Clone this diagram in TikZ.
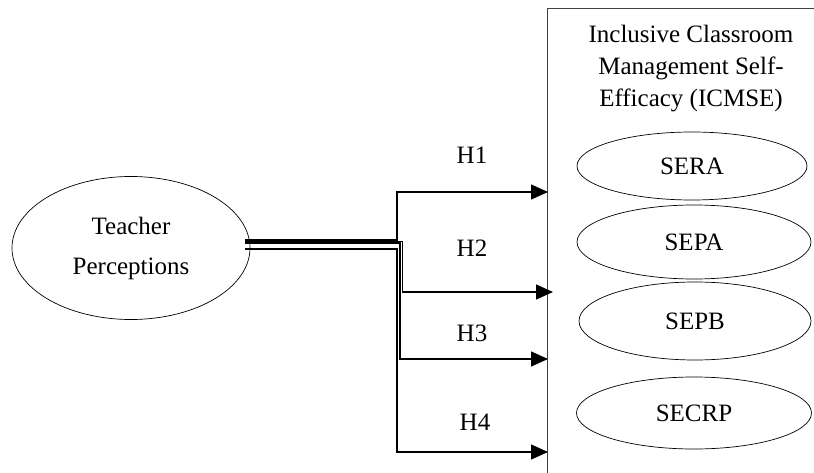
\documentclass[tikz,border=0pt]{standalone}
\usepackage{fontspec}
\setmainfont{Liberation Serif}
\usetikzlibrary{arrows.meta, shapes.geometric}
\begin{document}
\begin{tikzpicture}[x=1pt, y=-1pt,
        txt/.style={font=\fontsize{25}{32}\selectfont, align=center, inner sep=0pt},
        oval/.style={txt, draw, ellipse, line width=0.7pt},
        link/.style={line width=1.4pt, -{Triangle[length=17pt, width=15pt]}}]
                \useasboundingbox (0,0) rectangle (814,473);
                \draw [line width=0.8pt, black!75] (547,473) -- (547,8) -- (814,8);
                \node [oval, minimum width=238pt, minimum height=143pt, font=\fontsize{25}{40}\selectfont] (0) at (131,248) {Teacher\\Perceptions};
                \node [txt] (1) at (691,69) {Inclusive Classroom\\Management Self-\\Efficacy (ICMSE)};
                \node [oval, minimum width=230pt, minimum height=68pt] (2) at (692,166) {SERA};
                \node [oval, minimum width=234pt, minimum height=74pt] (3) at (694,242) {SEPA};
                \node [oval, minimum width=232pt, minimum height=78pt] (4) at (695,321) {SEPB};
                \node [oval, minimum width=235pt, minimum height=72pt] (5) at (694,413) {SECRP};
                \node [txt] (h1) at (472,155) {H1};
                \node [txt] (h2) at (472,248) {H2};
                \node [txt] (h3) at (472,333) {H3};
                \node [txt] (h4) at (475,422) {H4};
                \coordinate (s1) at (245,240);
                \coordinate (s2) at (245,241.5);
                \coordinate (s3) at (245,243);
                \coordinate (s4) at (245,249);
                \coordinate (k1) at (397,0);
                \coordinate (k2) at (402.5,0);
                \coordinate (k3) at (400,0);
                \coordinate (k4) at (397,0);
                \coordinate (e1) at (548,192);
                \coordinate (e2) at (553,292);
                \coordinate (e3) at (548,359);
                \coordinate (e4) at (548,452);
                \draw [link] (s1) -- (s1 -| k1) |- (e1);
                \draw [link] (s2) -- (s2 -| k2) |- (e2);
                \draw [link] (s3) -- (s3 -| k3) |- (e3);
                \draw [link] (s4) -- (s4 -| k4) |- (e4);
\end{tikzpicture}
\end{document}
